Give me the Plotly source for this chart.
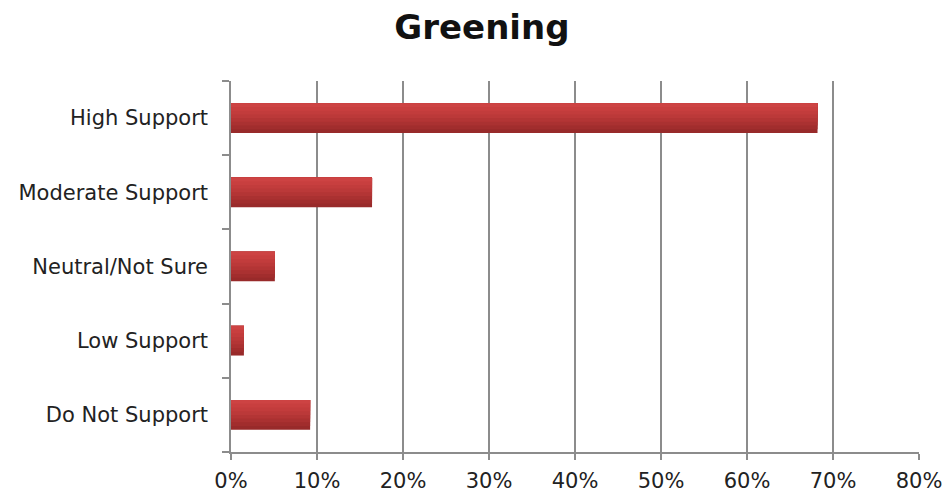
import plotly.graph_objects as go

# Survey responses for the "Greening" question (share of respondents)
categories = ["High Support", "Moderate Support", "Neutral/Not Sure", "Low Support", "Do Not Support"]
shares = [0.682, 0.164, 0.051, 0.015, 0.092]
x_ticks = [0, 0.1, 0.2, 0.3, 0.4, 0.5, 0.6, 0.7, 0.8]
x_tick_labels = ["0%", "10%", "20%", "30%", "40%", "50%", "60%", "70%", "80%"]

font_family = "DejaVu Sans, Verdana, sans-serif"
grid_color = "#8c8c8c"

# Each bar is painted as layered bands sharing the top edge: the full-height
# dark layer first, then shorter and lighter layers on top, giving a soft
# vertical shading (light at the top, darker at the bottom).
shade_colors = ["#982a2a", "#a12d2d", "#aa3131", "#b33535", "#bb3939", "#c23c3c", "#c83f3f", "#cd4343"]
bar_width = 0.4
n = len(shade_colors)

fig = go.Figure()
for i, col in enumerate(shade_colors):
    w = bar_width * (n - i) / n
    fig.add_trace(
        go.Bar(
            x=shares,
            y=categories,
            orientation="h",
            width=w,
            offset=bar_width / 2 - w,
            marker=dict(color=col, line=dict(width=0)),
            hoverinfo="x+y" if i == 0 else "skip",
        )
    )

fig.update_layout(
    width=945,
    height=496,
    margin=dict(l=231, r=26, t=81, b=44),
    paper_bgcolor="white",
    plot_bgcolor="white",
    showlegend=False,
    barmode="overlay",
    title=dict(
        text="<b>Greening</b>",
        x=0.51,
        xanchor="center",
        y=0.945,
        yanchor="middle",
        font=dict(family=font_family, size=34, color="#111111"),
    ),
)

fig.update_xaxes(
    range=[0, 0.8],
    tickvals=x_ticks,
    ticktext=x_tick_labels,
    showgrid=True,
    gridcolor=grid_color,
    gridwidth=1.5,
    showline=True,
    linecolor=grid_color,
    linewidth=1.5,
    ticks="outside",
    ticklen=6,
    tickcolor=grid_color,
    tickwidth=1.5,
    zeroline=False,
    automargin=False,
    tickfont=dict(family=font_family, size=21, color="#222222"),
    ticklabelstandoff=3,
)

fig.update_yaxes(
    categoryorder="array",
    categoryarray=categories[::-1],
    showgrid=False,
    showline=True,
    linecolor=grid_color,
    linewidth=1.5,
    ticks="outside",
    tickson="boundaries",
    ticklen=7,
    tickcolor=grid_color,
    tickwidth=1.5,
    automargin=False,
    tickfont=dict(family=font_family, size=21, color="#222222"),
    ticklabelstandoff=17,
)

fig.write_html("out.html")
